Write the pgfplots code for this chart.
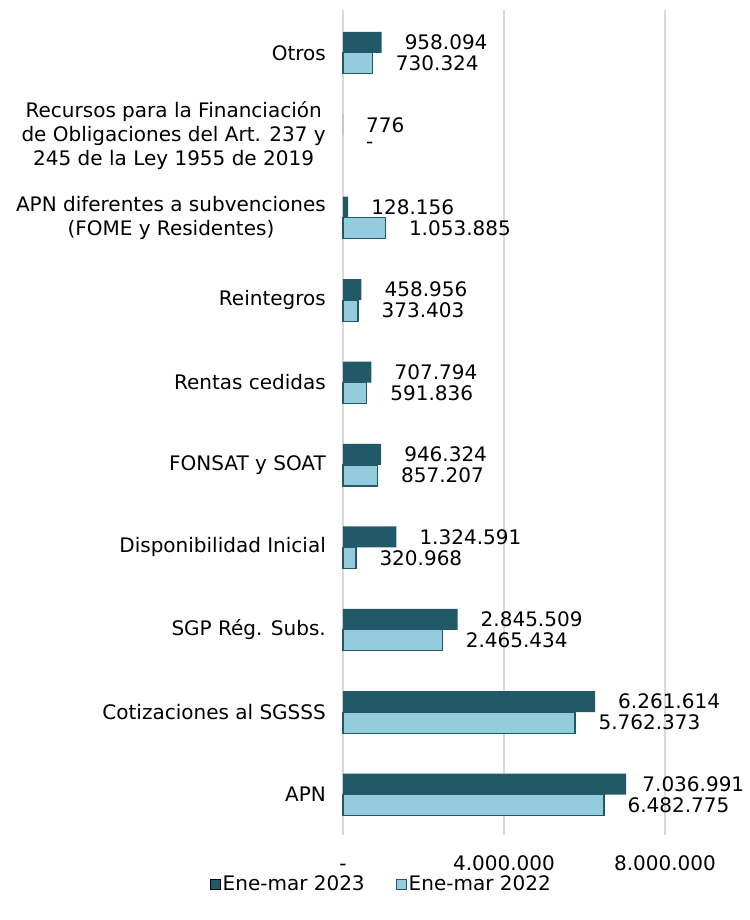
\documentclass[border=0pt]{standalone}
\usepackage{pgfplots}
\pgfplotsset{compat=1.18}
\usepackage{fontspec}
\setmainfont{DejaVu Sans}
\definecolor{dk}{HTML}{215968}
\definecolor{lt}{HTML}{93CDDD}
\definecolor{gr}{HTML}{D9D9D9}
\begin{document}
\fontsize{20}{24}\selectfont
\begin{tikzpicture}
\begin{axis}[
  at={(0,0)}, anchor=south west,
  scale only axis, width=402.5pt, height=825pt,
  xmin=0, xmax=10000000, ymin=-0.49, ymax=9.52,
  xbar, bar width=21pt,
  clip=false,
  axis line style={draw=none},
  major tick length=0pt,
  scaled x ticks=false,
  xmajorgrids, grid style={gr, line width=1.5pt},
  xtick={0,4000000,8000000},
  xticklabels={-,4.000.000,8.000.000},
  xticklabel style={inner sep=0pt, anchor=north, text height=15pt, text depth=0pt, yshift=-20pt},
  ytick={0,...,9},
  yticklabels={APN, Cotizaciones al SGSSS, SGP Rég. Subs., Disponibilidad Inicial, FONSAT y SOAT, Rentas cedidas, Reintegros, {APN diferentes a subvenciones\\(FOME y Residentes)}, {Recursos para la Financiación\\de Obligaciones del Art. 237 y\\245 de la Ley 1955 de 2019}, Otros},
  yticklabel style={align=center, inner sep=0pt, xshift=-17pt},
  font=\fontsize{20}{24}\selectfont,
  point meta=explicit symbolic,
  nodes near coords,
  nodes near coords style={anchor=west, inner sep=0pt, xshift=23pt, font=\fontsize{20}{24}\selectfont, text=black},
  legend style={at={(axis description cs:0.095,-0.06)}, anchor=center, draw=none, fill=none, legend columns=2, font=\fontsize{20}{24}\selectfont,
    /tikz/every even column/.append style={column sep=29pt}},
  legend cell align=left,
  legend image code/.code={\draw[#1, line width=1pt] (0pt,-5pt) rectangle (10pt,5pt);},
]
\addplot[fill=dk, draw=none, bar shift=10.5pt] coordinates {
 (7036991,0) [\hspace{-7pt}7.036.991]
 (6261614,1) [6.261.614]
 (2845509,2) [2.845.509]
 (1324591,3) [1.324.591]
 (946324,4) [946.324]
 (707794,5) [707.794]
 (458956,6) [458.956]
 (128156,7) [128.156]
 (776,8) [776]
 (958094,9) [958.094]
};
\addlegendentry{Ene-mar 2023}
\addplot[fill=lt, draw=dk, line width=1.2pt, bar shift=-10.5pt] coordinates {
 (6482775,0) [6.482.775]
 (5762373,1) [5.762.373]
 (2465434,2) [2.465.434]
 (320968,3) [320.968]
 (857207,4) [857.207]
 (591836,5) [591.836]
 (373403,6) [373.403]
 (1053885,7) [1.053.885]
 (730324,9) [730.324]
};
\addlegendentry{Ene-mar 2022}
\addplot[fill=none, draw=none, bar shift=-10.5pt, forget plot] coordinates {(0,8) [-]};
\path (rel axis cs:0,0) ++(-343pt,-85pt) rectangle ++(749pt,920pt);
\end{axis}
\end{tikzpicture}
\end{document}
